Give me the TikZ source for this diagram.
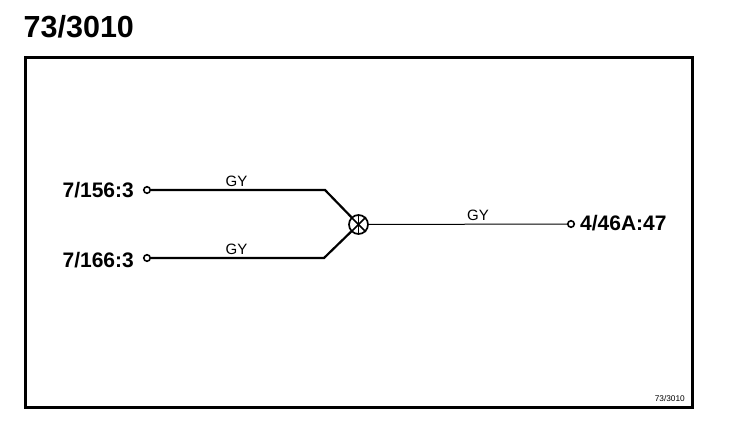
\documentclass[tikz,border=0pt]{standalone}
\usepackage{fontspec}
\setmainfont{Liberation Sans}
\begin{document}
\begin{tikzpicture}[x=1pt,y=-1pt,
  term/.style={circle,draw=black,line width=1.6pt,fill=white,inner sep=0pt,minimum size=6.5pt},
  junction/.style={circle,draw=black,line width=1.7pt,inner sep=0pt,minimum size=19pt},
  spoke/.style={line width=1.5pt},
  wirelabel/.style={font=\fontsize{15}{16}\selectfont,inner sep=0pt,anchor=base},
  pinlabel/.style={font=\bfseries\fontsize{21}{23}\selectfont,inner sep=0pt,anchor=base},
  heavy/.style={line width=2.2pt,line join=miter},
  light/.style={line width=1pt}]
\useasboundingbox (0,0) rectangle (736,422);
\fill[white] (0,0) rectangle (736,422);
\node[font=\bfseries\fontsize{30.5}{34}\selectfont,inner sep=0pt,anchor=base west] (title) at (23.5,38) {73/3010};
\node[draw=black,line width=2.5pt,inner sep=0pt,outer sep=0pt,minimum width=667pt,minimum height=350pt,anchor=north west] (frame) at (25.5,57.5) {};
\node[term] (a) at (147,190) {};
\node[term] (b) at (147,258) {};
\node[term] (c) at (571,224) {};
\node[junction] (j) at (358.5,224.5) {};
\coordinate (ab) at (325,190);
\coordinate (bb) at (324,258);
\draw[heavy] (a) -- (ab) -- (j);
\draw[heavy] (b) -- (bb) -- (j);
\draw[light] (j) -- (c);
\draw[spoke] (j.north) -- (j.south);
\draw[spoke] (j.45) -- (j.225);
\draw[spoke] (j.135) -- (j.315);
\node[pinlabel,anchor=base east] (la) at (134,198) {7/156:3};
\node[pinlabel,anchor=base east] (lb) at (134,267) {7/166:3};
\node[pinlabel,anchor=base west] (lc) at (580,230.5) {4/46A:47};
\node[wirelabel] (ga) at (236.5,187) {GY};
\node[wirelabel] (gb) at (236.5,254) {GY};
\node[wirelabel] (gc) at (478,221) {GY};
\node[font=\fontsize{8.3}{9}\selectfont,inner sep=0pt,anchor=base east] (tag) at (685,401) {73/3010};
\end{tikzpicture}
\end{document}
